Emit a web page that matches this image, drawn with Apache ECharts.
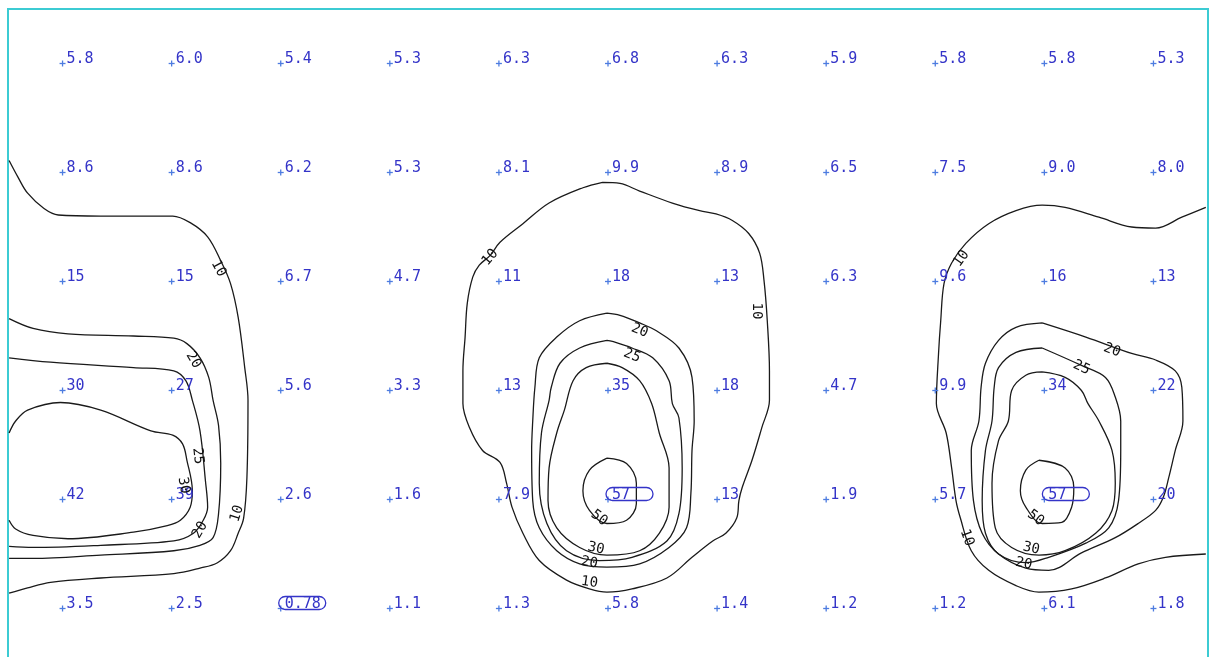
<!DOCTYPE html>
<html>
<head>
<meta charset="utf-8">
<script src="https://cdn.jsdelivr.net/npm/echarts@6/dist/echarts.min.js"></script>
<style>html,body{margin:0;padding:0;background:#fff;overflow:hidden}#c{width:1209px;height:700px}</style>
</head>
<body>
<div id="c"></div>
<script>
// Grid values (rows top to bottom, 11 columns)
const row0 = [5.8, 6.0, 5.4, 5.3, 6.3, 6.8, 6.3, 5.9, 5.8, 5.8, 5.3];
const row1 = [8.6, 8.6, 6.2, 5.3, 8.1, 9.9, 8.9, 6.5, 7.5, 9.0, 8.0];
const row2 = [15, 15, 6.7, 4.7, 11, 18, 13, 6.3, 9.6, 16, 13];
const row3 = [30, 27, 5.6, 3.3, 13, 35, 18, 4.7, 9.9, 34, 22];
const row4 = [42, 39, 2.6, 1.6, 7.9, 57, 13, 1.9, 5.7, 57, 20];
const row5 = [3.5, 2.5, 0.78, 1.1, 1.3, 5.8, 1.4, 1.2, 1.2, 6.1, 1.8];

// Contour lines (grid units: x = column, y = row)
const c10Left = [[-0.49,0.89],[-0.41,1.04],[-0.32,1.19],[-0.17,1.33],[-0.04,1.39],[0.35,1.40],[1.01,1.40],[1.17,1.46],[1.33,1.59],[1.45,1.81],[1.54,2.02],[1.61,2.33],[1.67,2.79],[1.70,3.09],[1.69,3.80],[1.66,4.17],[1.61,4.31],[1.54,4.47],[1.42,4.58],[1.26,4.63],[1.02,4.68],[0.35,4.72],[-0.11,4.76],[-0.32,4.81],[-0.49,4.86]];
const c20Left = [[-0.49,2.34],[-0.27,2.43],[0.05,2.48],[0.65,2.50],[1.02,2.52],[1.14,2.57],[1.26,2.70],[1.34,2.88],[1.38,3.09],[1.43,3.32],[1.45,3.67],[1.43,4.13],[1.38,4.35],[1.26,4.42],[1.02,4.47],[0.35,4.51],[-0.27,4.54],[-0.49,4.54]];
const c25Left = [[-0.49,2.70],[-0.11,2.74],[0.65,2.79],[1.02,2.82],[1.13,2.91],[1.19,3.09],[1.26,3.37],[1.31,3.83],[1.33,4.07],[1.29,4.19],[1.20,4.31],[1.02,4.38],[0.35,4.42],[-0.27,4.44],[-0.49,4.43]];
const c30Left = [[-0.49,3.39],[-0.43,3.28],[-0.32,3.18],[-0.02,3.11],[0.35,3.18],[0.81,3.37],[1.01,3.41],[1.10,3.49],[1.14,3.64],[1.19,3.92],[1.17,4.07],[1.08,4.19],[0.96,4.24],[0.65,4.30],[0.05,4.36],[-0.27,4.33],[-0.43,4.27],[-0.49,4.19]];
const c10Mid = [[4.95,1.09],[4.77,1.14],[4.46,1.28],[4.22,1.47],[4.01,1.64],[3.92,1.76],[3.82,1.85],[3.76,1.96],[3.71,2.20],[3.69,2.51],[3.67,2.82],[3.67,3.12],[3.73,3.34],[3.85,3.55],[4.01,3.66],[4.07,3.85],[4.12,4.07],[4.22,4.31],[4.37,4.56],[4.62,4.74],[4.83,4.82],[4.99,4.85],[5.22,4.82],[5.54,4.72],[5.77,4.53],[5.96,4.38],[6.08,4.31],[6.18,4.17],[6.20,4.01],[6.23,3.89],[6.32,3.64],[6.41,3.34],[6.48,3.09],[6.48,2.82],[6.46,2.36],[6.43,1.99],[6.39,1.74],[6.29,1.56],[6.14,1.44],[5.99,1.38],[5.84,1.35],[5.59,1.28],[5.29,1.17],[5.11,1.10],[4.95,1.09]];
const c20Mid = [[4.99,2.29],[4.74,2.36],[4.53,2.51],[4.37,2.70],[4.33,2.97],[4.31,3.28],[4.30,3.55],[4.31,4.01],[4.37,4.26],[4.53,4.47],[4.74,4.59],[4.99,4.62],[5.29,4.59],[5.56,4.44],[5.72,4.26],[5.76,3.94],[5.77,3.55],[5.79,3.28],[5.77,2.88],[5.65,2.61],[5.44,2.45],[5.29,2.38],[5.11,2.31],[4.99,2.29]];
const c25Mid = [[4.99,2.54],[4.74,2.61],[4.56,2.75],[4.48,2.97],[4.46,3.09],[4.39,3.39],[4.37,3.85],[4.44,4.22],[4.62,4.47],[4.92,4.56],[5.22,4.53],[5.54,4.38],[5.65,4.13],[5.68,3.71],[5.65,3.25],[5.59,3.12],[5.56,2.91],[5.41,2.70],[5.22,2.61],[5.04,2.55],[4.99,2.54]];
const c30Mid = [[4.99,2.75],[4.80,2.79],[4.68,2.91],[4.60,3.18],[4.53,3.39],[4.46,3.71],[4.45,4.01],[4.53,4.26],[4.74,4.44],[4.99,4.51],[5.29,4.47],[5.47,4.31],[5.56,4.07],[5.56,3.71],[5.47,3.39],[5.40,3.12],[5.29,2.91],[5.13,2.79],[4.99,2.75]];
const c50Mid = [[4.99,3.62],[4.83,3.73],[4.77,3.92],[4.83,4.10],[4.99,4.22],[5.17,4.19],[5.26,4.04],[5.26,3.85],[5.17,3.67],[4.99,3.62]];
const c10Right = [[10.48,1.32],[10.26,1.41],[10.02,1.51],[9.80,1.50],[9.50,1.41],[9.19,1.32],[8.98,1.30],[8.74,1.35],[8.49,1.47],[8.28,1.65],[8.15,1.83],[8.08,2.02],[8.05,2.36],[8.03,2.66],[8.01,3.12],[8.10,3.39],[8.15,3.71],[8.19,4.01],[8.23,4.17],[8.33,4.47],[8.49,4.65],[8.74,4.79],[8.95,4.85],[9.25,4.82],[9.56,4.72],[9.86,4.59],[10.11,4.53],[10.48,4.50]];
const c20Right = [[8.98,2.38],[8.74,2.42],[8.58,2.54],[8.46,2.75],[8.42,2.97],[8.40,3.28],[8.33,3.55],[8.35,4.01],[8.43,4.31],[8.58,4.50],[8.83,4.63],[9.04,4.65],[9.34,4.49],[9.65,4.35],[9.86,4.22],[10.02,4.10],[10.09,3.98],[10.14,3.80],[10.20,3.55],[10.27,3.28],[10.26,2.97],[10.20,2.82],[10.02,2.72],[9.80,2.66],[9.38,2.51],[8.98,2.38]];
const c25Right = [[8.98,2.61],[8.74,2.65],[8.58,2.79],[8.54,2.97],[8.52,3.28],[8.46,3.55],[8.43,4.01],[8.46,4.31],[8.58,4.50],[8.83,4.58],[9.04,4.53],[9.38,4.40],[9.59,4.26],[9.68,4.01],[9.70,3.55],[9.70,3.28],[9.65,3.06],[9.56,2.88],[9.34,2.77],[8.98,2.61]];
const c30Right = [[8.98,2.83],[8.83,2.86],[8.70,3.00],[8.67,3.28],[8.58,3.46],[8.52,3.85],[8.55,4.26],[8.70,4.44],[8.95,4.51],[9.19,4.47],[9.47,4.31],[9.62,4.10],[9.65,3.85],[9.62,3.55],[9.50,3.28],[9.40,3.12],[9.34,3.00],[9.19,2.88],[8.98,2.83]];
const c50Right = [[8.95,3.64],[8.83,3.73],[8.78,3.92],[8.83,4.07],[8.98,4.22],[9.16,4.21],[9.25,4.07],[9.27,3.89],[9.19,3.71],[8.95,3.64]];

// Contour labels: [x, y, text, angle]
const contourLabels = [
  [1.43,1.88,'10',-62],[1.20,2.72,'20',-58],[1.24,3.60,'25',-84],[1.11,3.87,'30',-80],
  [1.26,4.28,'20',60],[1.60,4.13,'10',72],
  [3.92,1.78,'10',50],[6.36,2.27,'10',-90],[5.29,2.45,'20',-22],[5.22,2.68,'25',-22],
  [4.92,4.17,'50',-37],[4.89,4.45,'30',-12],[4.83,4.58,'20',-10],[4.83,4.76,'10',-8],
  [8.24,1.79,'10',55],[9.62,2.63,'20',-22],[9.34,2.79,'25',-25],[8.92,4.17,'50',-37],
  [8.88,4.45,'30',-12],[8.81,4.59,'20',-12],[8.29,4.35,'10',-70]
];

const rowsAll = [row0, row1, row2, row3, row4, row5];
const contours = [c10Left, c20Left, c25Left, c30Left, c10Mid, c20Mid, c25Mid, c30Mid, c50Mid,
                  c10Right, c20Right, c25Right, c30Right, c50Right];

const pointData = [];
rowsAll.forEach((r, ri) => r.forEach((v, ci) => pointData.push([ci, ri, v])));
const allVals = pointData.map(d => d[2]);
const vMax = Math.max(...allVals), vMin = Math.min(...allVals);
function fmt(v) { return v < 1 ? v.toFixed(2) : (v < 10 ? v.toFixed(1) : v.toFixed(0)); }

const FONT = '"DejaVu Sans Mono", monospace';
const chart = echarts.init(document.getElementById('c'), null, {renderer: 'canvas'});

const series = contours.map(c => ({
  type: 'line', data: c, smooth: 0.35, showSymbol: false, symbol: 'none', silent: true,
  lineStyle: {color: '#1a1a1a', width: 1.3}, z: 2, animation: false
}));

series.push({
  type: 'custom', data: pointData, z: 5, silent: true, animation: false,
  renderItem: function (params, api) {
    const p = api.coord([api.value(0), api.value(1)]);
    const v = api.value(2);
    const children = [
      {type: 'line', shape: {x1: p[0] - 3, y1: p[1], x2: p[0] + 3, y2: p[1]}, style: {stroke: '#4d7ce0', lineWidth: 1.3}},
      {type: 'line', shape: {x1: p[0], y1: p[1] - 3, x2: p[0], y2: p[1] + 3}, style: {stroke: '#4d7ce0', lineWidth: 1.3}},
      {type: 'text', style: {text: fmt(v), x: p[0] + 4, y: p[1] + 3, align: 'left', verticalAlign: 'bottom',
        font: '15px ' + FONT, fill: '#3434c8'}}
    ];
    if (v === vMax || v === vMin) {
      children.push({type: 'rect', shape: {x: p[0] - 2, y: p[1] - 12, width: 47, height: 13, r: 6.5},
        style: {fill: 'none', stroke: '#3434c8', lineWidth: 1.3}});
    }
    return {type: 'group', children: children};
  }
});

series.push({
  type: 'custom', data: contourLabels.map(d => [d[0], d[1]]), z: 6, silent: true, animation: false,
  renderItem: function (params, api) {
    const p = api.coord([api.value(0), api.value(1)]);
    const lab = contourLabels[params.dataIndex];
    return {type: 'text', x: p[0], y: p[1], rotation: lab[3] * Math.PI / 180,
      style: {text: lab[2], x: 0, y: 0, align: 'center', verticalAlign: 'middle', font: '14px ' + FONT, fill: '#111'}};
  }
});

chart.setOption({
  animation: false,
  backgroundColor: '#ffffff',
  grid: {left: 8, top: 9, width: 1200, height: 654, show: true, borderColor: '#3ccbd3', borderWidth: 2, backgroundColor: 'transparent'},
  xAxis: {type: 'value', min: -0.5, max: 10.5, show: false},
  yAxis: {type: 'value', min: -0.5, max: 5.5, inverse: true, show: false},
  series: series
});
</script>
</body>
</html>
